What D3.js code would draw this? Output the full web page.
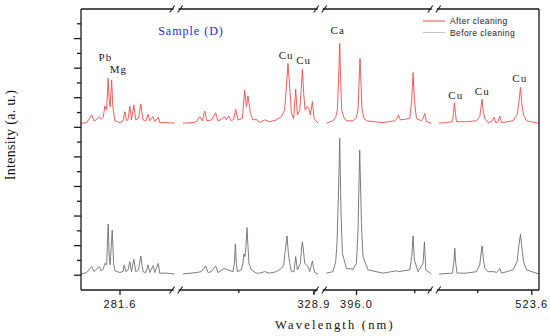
<!DOCTYPE html>
<html>
<head>
<meta charset="utf-8">
<script src="https://cdn.jsdelivr.net/npm/d3@7"></script>
<style>
  html, body { margin: 0; padding: 0; background: #fff; }
  svg { display: block; }
</style>
</head>
<body>
<div id="vis"></div>
<script>
'use strict';

// Wavelength windows shown on the broken x axis (nm)
const segmentDomains = [[275.1, 291.2], [306.2, 330.2], [390.2, 409.2], [507.6, 524.8]];

// Tick values (nm)
const labelTicks = [[0, 281.6], [1, 328.9], [2, 396.0], [3, 523.6]];
const minorXTicks = [[1, 316.4], [2, 405.7], [3, 514.6]];
const majorYTicks = [0, 1, 2, 3, 4, 5, 6, 7, 8];
const minorYTicks = [0.5, 1.5, 2.5, 3.5, 4.5, 5.5, 6.5, 7.5, 8.5];

// After cleaning spectrum, one array per window: [wavelength, intensity]
const afterA = [[275.1, 5.14], [276.05, 5.16], [276.88, 5.42], [277.26, 5.22], [277.59, 5.25], [278.14, 5.36],
  [278.47, 5.27], [278.8, 5.34], [279.08, 5.72], [279.37, 5.59], [279.63, 6.66], [279.8, 5.92], [279.96, 5.7],
  [280.2, 6.6], [280.41, 5.7], [280.74, 5.22], [281.57, 5.16], [282.12, 5.22], [282.4, 5.53], [282.69, 5.22],
  [282.95, 5.27], [283.23, 5.72], [283.51, 5.25], [283.9, 5.75], [284.23, 5.25], [284.68, 5.3], [285.06, 5.79],
  [285.44, 5.25], [285.89, 5.22], [286.27, 5.44], [286.55, 5.22], [287.1, 5.36], [287.38, 5.19], [287.99, 5.34],
  [288.21, 5.16], [289.32, 5.16], [290.7, 5.14]];
const afterB = [[307.08, 5.14], [308.75, 5.16], [309.32, 5.19], [309.87, 5.36], [310.32, 5.22], [310.7, 5.55],
  [311.08, 5.22], [311.82, 5.25], [312.53, 5.49], [312.92, 5.22], [313.48, 5.27], [314.03, 5.36], [314.32, 5.25],
  [314.7, 5.38], [315.15, 5.22], [315.53, 5.27], [315.87, 5.61], [316.25, 5.25], [316.98, 5.3], [317.37, 6.26],
  [317.65, 5.7], [317.92, 6.06], [318.32, 5.47], [318.75, 5.25], [319.32, 5.27], [319.87, 5.16], [320.7, 5.25],
  [321.53, 5.19], [322.65, 5.25], [323.48, 5.36], [324.03, 5.59], [324.32, 6.37], [324.58, 7.16], [324.87, 6.37],
  [325.15, 5.47], [325.53, 5.3], [325.87, 6.29], [326.15, 5.42], [326.53, 5.59], [326.75, 6.15], [326.98, 6.96],
  [327.2, 6.15], [327.42, 5.59], [327.75, 5.7], [328.03, 5.64], [328.32, 5.42], [328.65, 5.87], [328.92, 5.3],
  [329.58, 5.14]];
const afterC = [[390.98, 5.14], [392.08, 5.22], [392.53, 5.34], [392.82, 5.59], [392.98, 6.49], [393.2, 7.84],
  [393.37, 6.49], [393.53, 5.59], [393.87, 5.34], [394.32, 5.22], [395.42, 5.22], [395.98, 5.34], [396.25, 5.59],
  [396.42, 6.49], [396.58, 7.33], [396.75, 6.49], [396.92, 5.59], [397.2, 5.34], [397.65, 5.22], [400.42, 5.16],
  [402.37, 5.22], [402.65, 5.27], [402.98, 5.42], [403.32, 5.25], [404.87, 5.3], [405.2, 5.92], [405.42, 6.85],
  [405.65, 5.92], [405.98, 5.3], [406.82, 5.22], [407.08, 5.3], [407.37, 5.47], [407.65, 5.19], [408.48, 5.14]];
const afterD = [[508.15, 5.14], [509.38, 5.16], [510.38, 5.19], [510.55, 5.47], [510.72, 5.83], [510.88, 5.47],
  [511.05, 5.19], [512.72, 5.19], [514.38, 5.22], [514.93, 5.36], [515.15, 5.7], [515.32, 5.95], [515.48, 5.59],
  [515.77, 5.3], [516.32, 5.16], [516.88, 5.19], [517.32, 5.34], [517.6, 5.16], [517.98, 5.19], [518.27, 5.38],
  [518.55, 5.16], [520.48, 5.22], [521.15, 5.42], [521.43, 5.81], [521.72, 6.35], [521.93, 5.81], [522.22, 5.42],
  [522.72, 5.22], [524.8, 5.14]];

// Before cleaning spectrum
const beforeA = [[275.1, 0.04], [276.05, 0.09], [276.88, 0.29], [277.26, 0.13], [277.59, 0.18], [278.14, 0.29],
  [278.47, 0.15], [278.8, 0.2], [279.08, 0.4], [279.37, 0.35], [279.63, 1.73], [279.8, 0.63], [279.96, 0.35],
  [280.3, 1.53], [280.53, 0.4], [280.74, 0.15], [281.57, 0.09], [282.12, 0.13], [282.29, 0.35], [282.57, 0.12],
  [282.95, 0.18], [283.23, 0.46], [283.51, 0.12], [283.9, 0.54], [284.23, 0.12], [284.68, 0.18], [285.06, 0.65],
  [285.44, 0.12], [285.89, 0.09], [286.27, 0.35], [286.55, 0.09], [287.1, 0.32], [287.38, 0.09], [287.99, 0.4],
  [288.21, 0.07], [289.32, 0.07], [290.7, 0.04]];
const beforeB = [[307.08, 0.04], [309.32, 0.09], [310.15, 0.12], [310.87, 0.31], [311.25, 0.09], [311.82, 0.12],
  [312.53, 0.31], [312.92, 0.09], [314.03, 0.23], [314.58, 0.18], [315.42, 0.12], [315.65, 0.4], [315.82, 1.06],
  [315.98, 0.4], [316.15, 0.12], [316.82, 0.18], [317.08, 0.4], [317.25, 0.72], [317.42, 0.63], [317.58, 0.97],
  [317.75, 1.61], [317.92, 0.97], [318.08, 0.4], [318.48, 0.18], [319.32, 0.07], [319.87, 0.07], [320.7, 0.12],
  [321.53, 0.07], [322.65, 0.12], [323.48, 0.23], [323.87, 0.35], [324.08, 0.74], [324.42, 1.33], [324.65, 0.74],
  [324.87, 0.4], [325.15, 0.12], [325.58, 0.12], [325.87, 0.63], [326.15, 0.18], [326.65, 0.4], [326.82, 0.85],
  [326.98, 1.13], [327.15, 0.85], [327.37, 0.4], [327.65, 0.35], [327.92, 0.29], [328.2, 0.12], [328.48, 0.35],
  [328.65, 0.48], [328.82, 0.29], [329.03, 0.09], [329.58, 0.04]];
const beforeC = [[390.98, 0.07], [392.08, 0.12], [392.53, 0.46], [392.75, 1.08], [392.98, 2.65], [393.2, 4.63],
  [393.42, 2.09], [393.65, 0.74], [394.32, 0.23], [395.42, 0.2], [395.98, 0.4], [396.25, 1.53], [396.53, 4.23],
  [396.82, 1.75], [397.08, 0.63], [397.92, 0.18], [400.42, 0.07], [402.65, 0.15], [402.98, 0.12], [404.87, 0.18],
  [405.2, 0.63], [405.42, 1.33], [405.65, 0.51], [406.25, 0.12], [407.08, 0.4], [407.32, 1.13], [407.53, 0.18],
  [408.48, 0.04]];
const beforeD = [[508.15, 0.04], [510.38, 0.07], [510.6, 0.4], [510.77, 0.91], [510.93, 0.4], [511.15, 0.07],
  [512.72, 0.07], [514.38, 0.12], [514.93, 0.35], [515.15, 0.74], [515.32, 0.99], [515.48, 0.63], [515.77, 0.23],
  [516.32, 0.12], [517.32, 0.12], [517.72, 0.09], [518.27, 0.23], [518.55, 0.07], [520.48, 0.18], [521.15, 0.46],
  [521.43, 0.97], [521.72, 1.39], [521.93, 0.97], [522.22, 0.46], [522.72, 0.18], [524.8, 0.04]];

// Element labels: [text, window, wavelength, intensity]
const peakLabels = [['Pb', 0, 279.17, 7.24], ['Mg', 0, 281.32, 6.84], ['Cu', 1, 324.28, 7.31], ['Cu', 1, 327.2, 7.14],
  ['Ca', 2, 392.87, 8.15], ['Cu', 3, 510.93, 5.96], ['Cu', 3, 515.35, 6.09], ['Cu', 3, 521.6, 6.53]];

const seriesNames = ['After cleaning', 'Before cleaning'];

// Sizing
const width = 550;
const height = 336;
const margin = { top: 9, right: 11, bottom: 46, left: 81 };
const innerW = width - margin.left - margin.right;
const innerH = height - margin.top - margin.bottom;

const redColor = '#f24a4a';
const grayColor = '#6e6e6e';
const axisColor = '#1a1a1a';

const svg = d3.select('#vis').append('svg')
  .attr('width', width)
  .attr('height', height);

// Each window gets the same nm-to-pixel ratio, so widths follow the spans
const totalSpan = d3.sum(segmentDomains, d => d[1] - d[0]);
let cursor = margin.left;
const xScales = segmentDomains.map(function (dom) {
  const w = (dom[1] - dom[0]) / totalSpan * innerW;
  const s = d3.scaleLinear().domain(dom).range([cursor, cursor + w]);
  cursor += w;
  return s;
});

const y = d3.scaleLinear().domain([-0.5, 9]).range([margin.top + innerH, margin.top]);

// spectra
const afterSegs = [afterA, afterB, afterC, afterD];
const beforeSegs = [beforeA, beforeB, beforeC, beforeD];

function drawSpectrum(segs, color) {
  segs.forEach(function (pts, i) {
    const line = d3.line()
      .x(d => xScales[i](d[0]))
      .y(d => y(d[1]));
    svg.append('path')
      .datum(pts)
      .attr('fill', 'none')
      .attr('stroke', color)
      .attr('stroke-width', 0.9)
      .attr('stroke-linejoin', 'round')
      .attr('d', line);
  });
}
drawSpectrum(beforeSegs, grayColor);
drawSpectrum(afterSegs, redColor);

// frame
const x0 = margin.left, x1 = margin.left + innerW;
const yTop = margin.top, yBot = margin.top + innerH;
const frame = svg.append('g')
  .attr('stroke', axisColor)
  .attr('stroke-width', 1.3)
  .attr('fill', 'none');
frame.append('line').attr('x1', x0).attr('x2', x1).attr('y1', yTop).attr('y2', yTop);
frame.append('line').attr('x1', x0).attr('x2', x1).attr('y1', yBot).attr('y2', yBot);
frame.append('line').attr('x1', x0).attr('x2', x0).attr('y1', yTop).attr('y2', yBot);
frame.append('line').attr('x1', x1).attr('x2', x1).attr('y1', yTop).attr('y2', yBot);

// y ticks (outward, no labels)
frame.selectAll('.ymaj').data(majorYTicks).enter().append('line')
  .attr('x1', x0 - 7).attr('x2', x0)
  .attr('y1', d => y(d)).attr('y2', d => y(d));
frame.selectAll('.ymin').data(minorYTicks).enter().append('line')
  .attr('x1', x0 - 4).attr('x2', x0)
  .attr('y1', d => y(d)).attr('y2', d => y(d));

// x ticks
frame.selectAll('.xmaj').data(labelTicks).enter().append('line')
  .attr('x1', d => xScales[d[0]](d[1])).attr('x2', d => xScales[d[0]](d[1]))
  .attr('y1', yBot).attr('y2', yBot + 5);
frame.selectAll('.xmin').data(minorXTicks).enter().append('line')
  .attr('x1', d => xScales[d[0]](d[1])).attr('x2', d => xScales[d[0]](d[1]))
  .attr('y1', yBot).attr('y2', yBot + 3);

svg.selectAll('.xlab').data(labelTicks).enter().append('text')
  .attr('x', d => xScales[d[0]](d[1]))
  .attr('y', yBot + 18)
  .attr('text-anchor', 'middle')
  .style('font-family', 'Liberation Sans, Arial, sans-serif')
  .style('font-size', '11px')
  .style('letter-spacing', '1.1px')
  .attr('fill', '#111')
  .text(d => d[1].toFixed(1));

// axis break marks on top and bottom
const breaks = xScales.slice(0, -1).map(s => s.range()[1]);
[yTop, yBot].forEach(function (yy) {
  breaks.forEach(function (bx) {
    svg.append('rect')
      .attr('x', bx - 4).attr('y', yy - 1.5)
      .attr('width', 5).attr('height', 3)
      .attr('fill', '#fff');
    [-8, 0].forEach(function (dx) {
      svg.append('line')
        .attr('x1', bx + dx).attr('y1', yy + 3.5)
        .attr('x2', bx + dx + 5).attr('y2', yy - 3.5)
        .attr('stroke', axisColor)
        .attr('stroke-width', 1.1);
    });
  });
});

// element labels
svg.selectAll('.peak').data(peakLabels).enter().append('text')
  .attr('x', d => xScales[d[1]](d[2]))
  .attr('y', d => y(d[3]))
  .attr('text-anchor', 'middle')
  .style('font-family', 'Liberation Serif, Times New Roman, serif')
  .style('font-size', '11px')
  .style('letter-spacing', '1px')
  .attr('fill', '#222')
  .text(d => d[0]);

// sample title
svg.append('text')
  .attr('x', 191).attr('y', 35)
  .attr('text-anchor', 'middle')
  .style('font-family', 'Liberation Serif, Times New Roman, serif')
  .style('font-size', '12px')
  .style('letter-spacing', '1px')
  .attr('fill', '#2424f0')
  .text('Sample (D)');

// legend
const legend = svg.append('g').attr('transform', 'translate(423,21)');
[redColor, '#c4c4c4'].forEach(function (c, i) {
  legend.append('line')
    .attr('x1', 0).attr('x2', 22)
    .attr('y1', i * 11.5).attr('y2', i * 11.5)
    .attr('stroke', c).attr('stroke-width', 1);
  legend.append('text')
    .attr('x', 27).attr('y', i * 11.5 + 3)
    .style('font-family', 'Liberation Sans, Arial, sans-serif')
    .style('font-size', '8.5px')
    .style('letter-spacing', '0.4px')
    .attr('fill', '#222')
    .text(seriesNames[i]);
});

// axis titles
svg.append('text')
  .attr('x', 335).attr('y', 329)
  .attr('text-anchor', 'middle')
  .style('font-family', 'Liberation Serif, Times New Roman, serif')
  .style('font-size', '12.5px')
  .style('letter-spacing', '2.2px')
  .attr('fill', '#111')
  .text('Wavelength (nm)');

svg.append('text')
  .attr('transform', 'translate(15,135) rotate(-90)')
  .attr('text-anchor', 'middle')
  .style('font-family', 'Liberation Serif, Times New Roman, serif')
  .style('font-size', '14px')
  .style('letter-spacing', '0.3px')
  .attr('fill', '#111')
  .text('Intensity (a. u.)');
</script>
</body>
</html>
